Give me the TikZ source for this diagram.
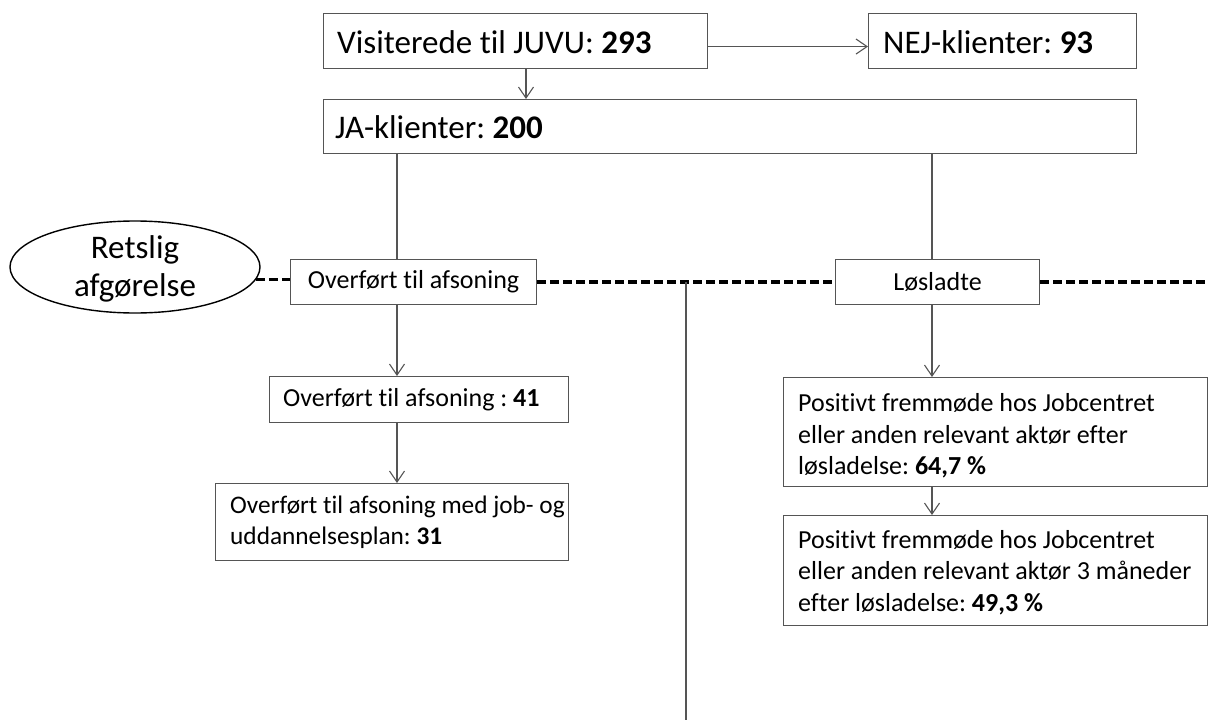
\documentclass[tikz,border=0pt]{standalone}
\usepackage{fontspec}
\setmainfont{Carlito}[Ligatures={NoCommon,NoContextual}]
\usetikzlibrary{arrows.meta,shapes.geometric,calc}
\definecolor{linegray}{RGB}{85,85,85}
\frenchspacing
\begin{document}
\begin{tikzpicture}[x=1pt,y=-1pt,
  bx/.style={draw=linegray, line width=1.1pt, rectangle, inner sep=0pt, anchor=north west},
  bigtxt/.style={font=\fontsize{33}{38}\selectfont, inner sep=0pt, anchor=west},
  smalltxt/.style={font=\fontsize{26}{31.5}\selectfont, inner sep=0pt, align=left, anchor=west},
  conn/.style={draw=linegray, line width=1.1pt},
  arr/.style={conn, -{Straight Barb[length=11pt,width=15pt]}},
  dashline/.style={draw=black, line width=3.2pt, dash pattern=on 9pt off 4pt},
]
\useasboundingbox (0,0) rectangle (1208,720);

% helper coordinates
\coordinate (xl) at (397,0);
\coordinate (xr) at (932,0);
\coordinate (xa) at (526,0);
\coordinate (J) at (686,282);
\coordinate (Jend) at (686,720);
\coordinate (Rend) at (1208,282);

% top boxes
\node[bx, minimum width=384pt, minimum height=55pt] (A) at (323,13) {};
\node[bigtxt] (At) at ([xshift=14pt,yshift=-1pt]A.west) {Visiterede til JUVU: \textbf{293}};
\node[bx, minimum width=268pt, minimum height=55pt] (N) at (868,13) {};
\node[bigtxt] (Nt) at ([xshift=15pt,yshift=-1pt]N.west) {NEJ-klienter: \textbf{93}};
\node[bx, minimum width=813pt, minimum height=54pt] (JA) at (323,99) {};
\node[bigtxt] (JAt) at ([xshift=12pt,yshift=-1pt]JA.west) {JA-klienter: \textbf{200}};

% ellipse
\node[draw=black, line width=1.4pt, ellipse, minimum width=250pt, minimum height=92pt, inner sep=0pt] (E) at (135,267) {};
\node[font=\fontsize{33}{38}\selectfont, align=center, inner sep=0pt] (Et) at ([yshift=-2pt]E.center) {Retslig\\afgørelse};

% middle boxes
\node[bx, minimum width=246pt, minimum height=45pt, font=\fontsize{26}{31.5}\selectfont] (O1) at (290,259) {Overført til afsoning};
\node[bx, minimum width=204pt, minimum height=45pt, font=\fontsize{26}{31.5}\selectfont] (L) at (835,259) {Løsladte};

% left column
\node[bx, minimum width=299pt, minimum height=46pt] (O2) at (269,376) {};
\node[smalltxt] (O2t) at ([xshift=14pt]O2.west) {Overført til afsoning : \textbf{41}};
\node[bx, minimum width=353pt, minimum height=77pt] (O3) at (215,483) {};
\node[smalltxt, font=\fontsize{25.3}{31.5}\selectfont] (O3t) at ([xshift=15pt]O3.west) {Overført til afsoning med job- og\\uddannelsesplan: \textbf{31}};

% right column
\node[bx, minimum width=424pt, minimum height=109pt] (D) at (783,377) {};
\node[smalltxt] (Dt) at ([xshift=15pt,yshift=-4pt]D.west) {Positivt fremmøde hos Jobcentret\\eller anden relevant aktør efter\\løsladelse: \textbf{64,7 \%}};
\node[bx, minimum width=424pt, minimum height=110pt] (F) at (783,515) {};
\node[smalltxt] (Ft) at ([xshift=15pt,yshift=-2pt]F.west) {Positivt fremmøde hos Jobcentret\\eller anden relevant aktør 3 måneder\\efter løsladelse: \textbf{49,3 \%}};

% dashed line
\draw[dashline] (E.-6) -- (E.-6 -| O1.west);
\draw[dashline] (O1.east) -- (L.west);
\draw[dashline] (L.east) -- (L.east -| Rend);
\draw[conn] (J) -- (Jend);

% connectors
\draw[arr] ([yshift=-5.5pt]A.east) -- ([yshift=-5.5pt]N.west);
\draw[arr] (A.south -| xa) -- (JA.north -| xa);
\draw[conn] (JA.south -| xl) -- (O1.north -| xl);
\draw[arr] (O1.south -| xl) -- (O2.north -| xl);
\draw[arr] (O2.south -| xl) -- (O3.north -| xl);
\draw[conn] (JA.south -| xr) -- (L.north -| xr);
\draw[arr] (L.south -| xr) -- (D.north -| xr);
\draw[arr] (D.south -| xr) -- (F.north -| xr);
\end{tikzpicture}
\end{document}
